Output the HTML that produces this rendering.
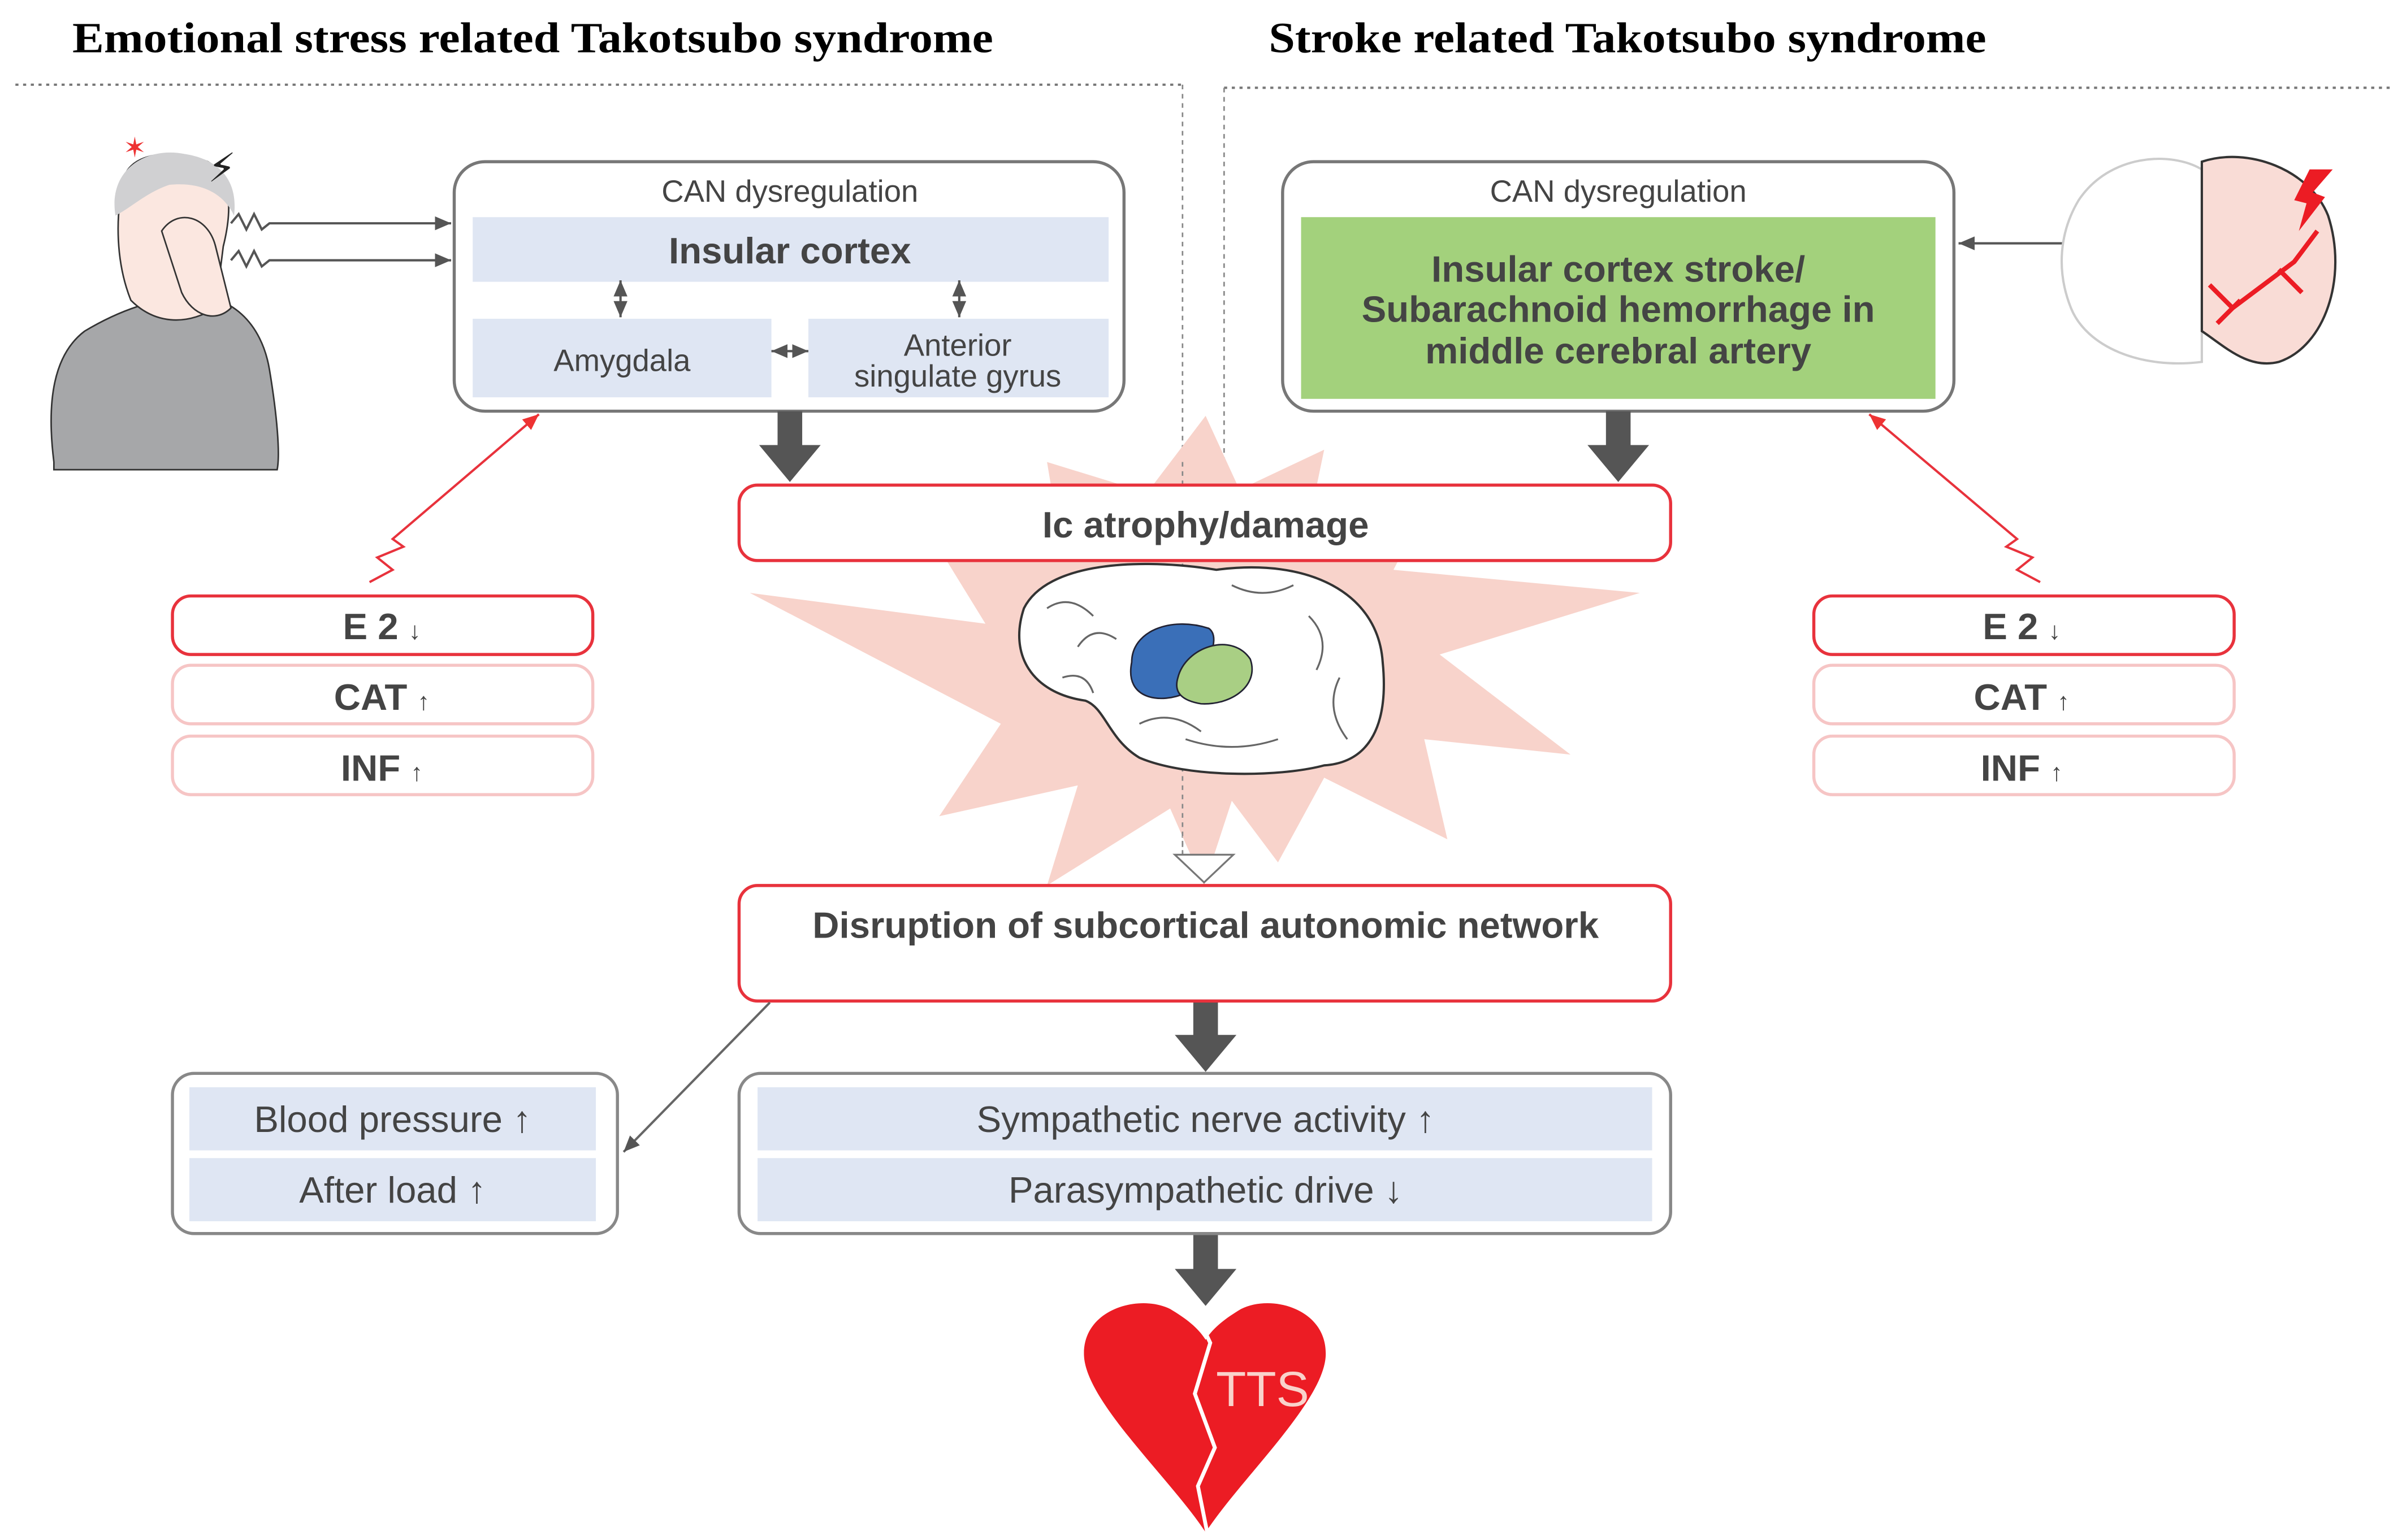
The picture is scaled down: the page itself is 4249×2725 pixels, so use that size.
<!DOCTYPE html>
<html><head><meta charset="utf-8"><style>
html,body{margin:0;padding:0;background:#fff;}
svg{display:block;}
.s{font-family:"Liberation Sans",sans-serif;fill:#444;}
.t{font-family:"Liberation Serif",serif;font-weight:bold;fill:#000;font-size:28px;}
</style></head><body>
<svg width="4249" height="2725" viewBox="0 0 1560 1000" preserveAspectRatio="none" xmlns="http://www.w3.org/2000/svg">
<defs>
<marker id="ah" markerWidth="8" markerHeight="8" refX="7" refY="4" orient="auto"><path d="M0,1 L7,4 L0,7 z" fill="#555"/></marker>
<marker id="ahs" markerWidth="8" markerHeight="8" refX="7" refY="4" orient="auto-start-reverse"><path d="M0,1 L7,4 L0,7 z" fill="#555"/></marker>
<marker id="ar" markerWidth="8" markerHeight="8" refX="7" refY="4" orient="auto"><path d="M0,1 L7,4 L0,7 z" fill="#e33"/></marker>
</defs>
<text class="t" x="47" y="34" textLength="598" lengthAdjust="spacingAndGlyphs">Emotional stress related Takotsubo syndrome</text>
<text class="t" x="824" y="34" textLength="466" lengthAdjust="spacingAndGlyphs">Stroke related Takotsubo syndrome</text>
<line x1="10" y1="55" x2="768" y2="55" stroke="#777" stroke-width="1.5" stroke-dasharray="2,3"/>
<line x1="795" y1="57" x2="1555" y2="57" stroke="#777" stroke-width="1.5" stroke-dasharray="2,3"/>
<line x1="768" y1="55" x2="768" y2="555" stroke="#888" stroke-width="1" stroke-dasharray="3,3"/>
<line x1="795" y1="57" x2="795" y2="300" stroke="#888" stroke-width="1" stroke-dasharray="3,3"/>

<!-- starburst -->
<polygon fill="#f8d3cb" points="783,270 805,318 860,292 850,340 930,322 905,370 1065,385 935,425 1020,490 925,480 940,545 860,505 830,560 800,520 782,575 760,525 680,575 700,510 610,530 650,470 487,385 640,405 600,340 690,360 680,300 745,320"/>
<line x1="768" y1="300" x2="768" y2="555" stroke="#888" stroke-width="1" stroke-dasharray="3,3"/>

<!-- left CAN box -->
<rect x="295" y="105" width="435" height="162" rx="20" fill="#fff" stroke="#777" stroke-width="2"/>
<text class="s" x="513" y="131" font-size="20" text-anchor="middle">CAN dysregulation</text>
<rect x="307" y="141" width="413" height="42" fill="#dfe6f3"/>
<text class="s" x="513" y="171" font-size="24" font-weight="bold" text-anchor="middle">Insular cortex</text>
<rect x="307" y="207" width="194" height="51" fill="#dfe6f3"/>
<rect x="525" y="207" width="195" height="51" fill="#dfe6f3"/>
<text class="s" x="404" y="241" font-size="20" text-anchor="middle">Amygdala</text>
<text class="s" x="622" y="231" font-size="20" text-anchor="middle">Anterior</text>
<text class="s" x="622" y="251" font-size="20" text-anchor="middle">singulate gyrus</text>
<line x1="403" y1="182" x2="403" y2="206" stroke="#555" stroke-width="1.5" marker-start="url(#ahs)" marker-end="url(#ah)"/>
<line x1="623" y1="182" x2="623" y2="206" stroke="#555" stroke-width="1.5" marker-start="url(#ahs)" marker-end="url(#ah)"/>
<line x1="501" y1="228" x2="525" y2="228" stroke="#555" stroke-width="1.5" marker-start="url(#ahs)" marker-end="url(#ah)"/>

<!-- right CAN box -->
<rect x="833" y="105" width="436" height="162" rx="20" fill="#fff" stroke="#777" stroke-width="2"/>
<text class="s" x="1051" y="131" font-size="20" text-anchor="middle">CAN dysregulation</text>
<rect x="845" y="141" width="412" height="118" fill="#a3d17c"/>
<text class="s" x="1051" y="183" font-size="24" font-weight="bold" text-anchor="middle">Insular cortex stroke/</text>
<text class="s" x="1051" y="209" font-size="24" font-weight="bold" text-anchor="middle">Subarachnoid hemorrhage in</text>
<text class="s" x="1051" y="236" font-size="24" font-weight="bold" text-anchor="middle">middle cerebral artery</text>

<!-- dark arrows -->
<g fill="#555">
<path d="M505,267 h16 v22 h12 l-20,24 l-20,-24 h12 z"/>
<path d="M1043,267 h16 v22 h12 l-20,24 l-20,-24 h12 z"/>
<path d="M775,650 h16 v22 h12 l-20,24 l-20,-24 h12 z"/>
<path d="M775,802 h16 v22 h12 l-20,24 l-20,-24 h12 z"/>
</g>

<!-- Ic box -->
<rect x="480" y="315" width="605" height="49" rx="12" fill="#fff" stroke="#e8323c" stroke-width="2"/>
<text class="s" x="783" y="349" font-size="24" font-weight="bold" text-anchor="middle">Ic atrophy/damage</text>

<!-- brain -->
<path d="M665,395 C680,365 740,362 790,370 C850,362 895,385 898,430 C902,470 890,495 860,497 C830,505 770,505 740,492 C720,480 718,460 705,455 C670,450 655,425 665,395 z" fill="#fff" stroke="#333" stroke-width="1.5"/>
<path d="M680,395 q15,-10 30,5 M700,420 q10,-15 25,-5 M690,440 q15,-5 20,10 M800,380 q20,10 40,0 M850,400 q15,15 5,35 M770,480 q30,10 60,0 M740,470 q20,-10 40,5 M870,440 q-10,20 5,40" fill="none" stroke="#666" stroke-width="1.2"/>
<path d="M735,430 C735,410 760,400 785,408 C795,415 780,440 770,450 C755,457 730,455 735,430 z" fill="#3a6fb8" stroke="#223" stroke-width="1"/>
<path d="M765,440 C770,420 800,410 812,428 C818,445 800,458 780,457 C768,455 762,450 765,440 z" fill="#a9cf84" stroke="#223" stroke-width="1"/>

<!-- open triangle -->
<polygon points="763,555 801,555 782,573" fill="#fff" stroke="#777" stroke-width="1.2"/>

<!-- Disruption -->
<rect x="480" y="575" width="605" height="75" rx="12" fill="#fff" stroke="#e8323c" stroke-width="2"/>
<text class="s" x="783" y="609" font-size="24" font-weight="bold" text-anchor="middle">Disruption of subcortical autonomic network</text>
<line x1="500" y1="651" x2="405" y2="748" stroke="#666" stroke-width="1.5" marker-end="url(#ah)"/>

<!-- BP box -->
<rect x="112" y="697" width="289" height="104" rx="14" fill="#fff" stroke="#888" stroke-width="2"/>
<rect x="123" y="706" width="264" height="41" fill="#dfe6f3"/>
<rect x="123" y="752" width="264" height="41" fill="#dfe6f3"/>
<text class="s" x="255" y="735" font-size="24" text-anchor="middle">Blood pressure ↑</text>
<text class="s" x="255" y="781" font-size="24" text-anchor="middle">After load ↑</text>

<!-- Symp box -->
<rect x="480" y="697" width="605" height="104" rx="14" fill="#fff" stroke="#888" stroke-width="2"/>
<rect x="492" y="706" width="581" height="41" fill="#dfe6f3"/>
<rect x="492" y="752" width="581" height="41" fill="#dfe6f3"/>
<text class="s" x="783" y="735" font-size="24" text-anchor="middle">Sympathetic nerve activity ↑</text>
<text class="s" x="783" y="781" font-size="24" text-anchor="middle">Parasympathetic drive ↓</text>

<!-- heart -->
<path d="M783,995 C760,960 705,910 704,880 C703,850 740,840 760,850 C770,856 778,862 783,870 C788,862 796,856 806,850 C826,840 862,850 861,880 C860,910 806,960 783,995 z" fill="#ec1c24"/>
<path d="M778,855 L786,872 L776,905 L789,940 L778,965 L784,995" fill="none" stroke="#fff" stroke-width="2.5"/>
<text x="820" y="913" font-family="Liberation Sans,sans-serif" font-size="32" fill="#f9d2cb" text-anchor="middle">TTS</text>

<!-- E2 boxes -->
<g font-family="Liberation Sans,sans-serif" font-size="24" font-weight="bold" fill="#444" text-anchor="middle">
<rect x="112" y="387" width="273" height="38" rx="12" fill="#fff" stroke="#e8323c" stroke-width="2"/>
<rect x="112" y="432" width="273" height="38" rx="12" fill="#fff" stroke="#f6c5c5" stroke-width="2"/>
<rect x="112" y="478" width="273" height="38" rx="12" fill="#fff" stroke="#f6c5c5" stroke-width="2"/>
<text x="248" y="415" class="s">E 2 <tspan font-size="16">↓</tspan></text>
<text x="248" y="461" class="s">CAT <tspan font-size="16">↑</tspan></text>
<text x="248" y="507" class="s">INF <tspan font-size="16">↑</tspan></text>
<rect x="1178" y="387" width="273" height="38" rx="12" fill="#fff" stroke="#e8323c" stroke-width="2"/>
<rect x="1178" y="432" width="273" height="38" rx="12" fill="#fff" stroke="#f6c5c5" stroke-width="2"/>
<rect x="1178" y="478" width="273" height="38" rx="12" fill="#fff" stroke="#f6c5c5" stroke-width="2"/>
<text x="1313" y="415" class="s">E 2 <tspan font-size="16">↓</tspan></text>
<text x="1313" y="461" class="s">CAT <tspan font-size="16">↑</tspan></text>
<text x="1313" y="507" class="s">INF <tspan font-size="16">↑</tspan></text>
</g>

<!-- red connectors -->
<path d="M240,378 L255,370 L245,362 L262,355 L255,350 L350,269" fill="none" stroke="#e8323c" stroke-width="1.5" marker-end="url(#ar)"/>
<path d="M1325,378 L1310,370 L1320,362 L1303,355 L1310,350 L1214,269" fill="none" stroke="#e8323c" stroke-width="1.5" marker-end="url(#ar)"/>

<!-- woman arrows -->
<path d="M150,145 l5,-6 l5,10 l5,-10 l5,10 l5,-4 L293,145" fill="none" stroke="#555" stroke-width="1.5" marker-end="url(#ah)"/>
<path d="M150,169 l5,-6 l5,10 l5,-10 l5,10 l5,-4 L293,169" fill="none" stroke="#555" stroke-width="1.5" marker-end="url(#ah)"/>
<path d="M1455,158 l-5,-6 l-5,10 l-5,-10 l-5,10 l-5,-4 L1272,158" fill="none" stroke="#555" stroke-width="1.5" marker-end="url(#ah)"/>

<!-- woman -->
<path d="M35,300 C30,260 35,230 55,215 C80,200 100,195 120,192 C150,190 170,210 175,240 C180,270 182,295 180,305 L35,305 z" fill="#a6a7a9" stroke="#333" stroke-width="1"/>
<path d="M80,120 C80,100 110,95 135,105 C152,115 150,140 145,160 L140,200 C120,212 100,210 85,195 C75,170 75,140 80,120 z" fill="#fbe7e0" stroke="#333" stroke-width="1"/>
<path d="M75,140 C70,110 95,95 120,100 C140,103 155,115 152,140 C145,125 130,118 110,120 C95,125 85,135 75,140 z" fill="#d0d0d2"/>
<path d="M105,150 C115,135 135,140 140,160 L150,200 C140,210 125,205 118,190 z" fill="#fbe7e0" stroke="#333" stroke-width="1"/>
<text x="135" y="118" font-size="26" fill="#222" font-family="DejaVu Sans,sans-serif">⚡</text>
<text x="80" y="102" font-size="18" fill="#e33" font-family="DejaVu Sans,sans-serif">✶</text>

<!-- right brain -->
<path d="M1350,130 C1370,100 1410,98 1430,110 L1430,235 C1390,240 1355,225 1345,200 C1335,175 1338,150 1350,130 z" fill="#fff" stroke="#ccc" stroke-width="1.5"/>
<path d="M1430,105 C1460,95 1500,110 1512,140 C1525,180 1510,225 1480,235 C1460,240 1445,225 1430,215 z" fill="#f9dcd6" stroke="#333" stroke-width="1.5"/>
<path d="M1435,185 L1450,200 L1470,185 L1490,170 L1505,150 M1480,175 L1495,190 M1440,210 L1455,195" fill="none" stroke="#ec1c24" stroke-width="3"/>
<path d="M1500,110 L1515,110 L1502,125 L1510,128 L1493,150 L1498,132 L1490,130 z" fill="#ec1c24"/>
</svg>
</body></html>
